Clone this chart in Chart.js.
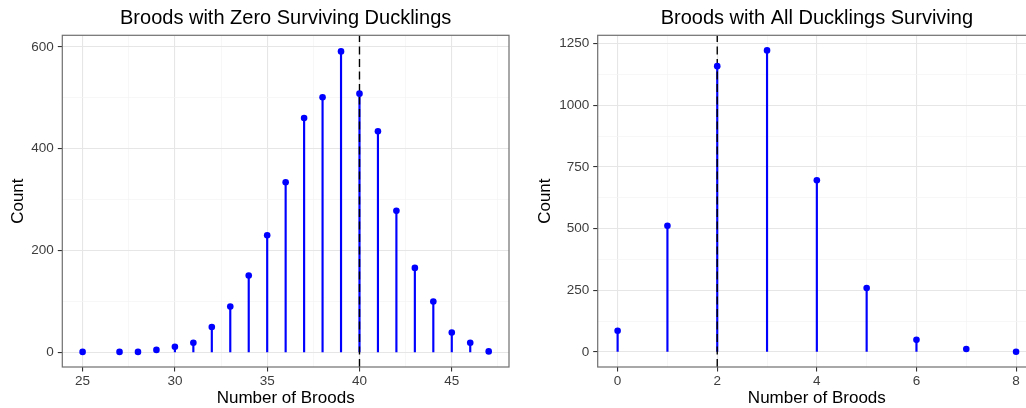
<!DOCTYPE html>
<html><head><meta charset="utf-8">
<script src="https://cdn.jsdelivr.net/npm/chart.js@4.4.0/dist/chart.umd.min.js"></script>
<style>
html,body{margin:0;padding:0;background:#fff;overflow:hidden;width:1026px;height:408px;}
#c1{position:absolute;left:0;top:0;}
#c2{position:absolute;left:513px;top:0;}
</style></head><body>
<canvas id="c1" width="513" height="408"></canvas>
<canvas id="c2" width="533" height="408"></canvas>
<script>
// ---- data ----
const zeroTitle = "Broods with Zero Surviving Ducklings";
const zeroBroods = [25, 27, 28, 29, 30, 31, 32, 33, 34, 35, 36, 37, 38, 39, 40, 41, 42, 43, 44, 45, 46, 47];
const zeroCounts = [1, 1, 1, 5, 11, 19, 50, 90, 151, 230, 334, 460, 501, 591, 508, 434, 278, 166, 100, 39, 19, 2];
const zeroMarker = 40;
const zeroXMajor = [25, 30, 35, 40, 45];
const zeroXMinor = [27.5, 32.5, 37.5, 42.5, 47.5];
const zeroYMajor = [0, 200, 400, 600];
const zeroYMinor = [100, 300, 500];

const allTitle = "Broods with All Ducklings Surviving";
const allBroods = [0, 1, 2, 3, 4, 5, 6, 7, 8];
const allCounts = [86, 512, 1159, 1223, 696, 259, 49, 12, 1];
const allMarker = 2;
const allXMajor = [0, 2, 4, 6, 8];
const allXMinor = [1, 3, 5, 7];
const allYMajor = [0, 250, 500, 750, 1000, 1250];
const allYMinor = [125, 375, 625, 875, 1125];

const xLabel = "Number of Broods";
const yLabel = "Count";

const FONT = '"Liberation Sans", Arial, Helvetica, sans-serif';

function makeChart(canvasId, cfg) {
  const majX = new Set(cfg.xMajor), majY = new Set(cfg.yMajor);
  const pts = cfg.x.map((v, i) => ({x: v, y: cfg.y[i]}));
  const tickSet = (major, minor) => major.concat(minor).sort((a, b) => a - b).map(v => ({value: v}));
  const gridOpts = (majSet) => ({
    offset: false,
    color: ctx => (ctx.tick && majSet.has(ctx.tick.value)) ? '#e6e6e6' : '#f3f3f3',
    lineWidth: ctx => (ctx.tick && majSet.has(ctx.tick.value)) ? 1.1 : 0.7,
    tickColor: ctx => (ctx.tick && majSet.has(ctx.tick.value)) ? '#333333' : 'rgba(0,0,0,0)',
    tickLength: 4.5,
    tickWidth: 1.1,
    drawTicks: true
  });
  const plugins = [{
    id: 'extras',
    afterDatasetDraw(chart, args) {
      if (args.index !== 0) return;
      const {ctx, chartArea: a, scales} = chart;
      const px = scales.x.getPixelForValue(cfg.marker);
      ctx.save();
      ctx.beginPath();
      ctx.rect(a.left, a.top, a.right - a.left, a.bottom - a.top);
      ctx.clip();
      ctx.strokeStyle = '#000';
      ctx.lineWidth = 1.4;
      ctx.setLineDash([8, 4.5]);
      ctx.beginPath();
      ctx.moveTo(px, a.bottom);
      ctx.lineTo(px, a.top);
      ctx.stroke();
      ctx.restore();
    },
    afterDraw(chart) {
      const {ctx, chartArea: a} = chart;
      ctx.save();
      ctx.strokeStyle = '#6f6f6f';
      ctx.lineWidth = 1.2;
      ctx.strokeRect(a.left, a.top, a.right - a.left, a.bottom - a.top);
      ctx.fillStyle = '#000';
      ctx.font = '20px ' + FONT;
      ctx.textAlign = 'center';
      ctx.textBaseline = 'middle';
      ctx.fillText(cfg.title, (a.left + a.right) / 2, 18);
      ctx.restore();
    }
  }];
  return new Chart(document.getElementById(canvasId), {
    data: {
      datasets: [
        {type: 'bar', data: pts, backgroundColor: '#0000ff', barThickness: 1.5, grouped: false, order: 2},
        {type: 'scatter', data: pts, backgroundColor: '#0000ff', borderWidth: 0, pointRadius: 3.3, order: 1}
      ]
    },
    options: {
      responsive: false,
      animation: false,
      events: [],
      layout: {padding: {left: 0, right: cfg.padRight, top: 35.3, bottom: 0}},
      plugins: {legend: {display: false}, tooltip: {enabled: false}, title: {display: false}},
      scales: {
        x: {
          type: 'linear', position: 'bottom', min: cfg.xMin, max: cfg.xMax, offset: false,
          afterBuildTicks: s => { s.ticks = tickSet(cfg.xMajor, cfg.xMinor); },
          afterFit: s => { s.height = 41; },
          grid: gridOpts(majX),
          border: {display: false},
          ticks: {
            autoSkip: false, maxRotation: 0, padding: 2,
            color: '#3d3d3d', font: {family: FONT, size: 13.5},
            callback: v => majX.has(v) ? String(v) : ''
          },
          title: {display: true, text: xLabel, color: '#000', font: {family: FONT, size: 17, lineHeight: 1}, padding: {top: 0, bottom: 1}}
        },
        y: {
          type: 'linear', position: 'left', min: cfg.yMin, max: cfg.yMax,
          afterBuildTicks: s => { s.ticks = tickSet(cfg.yMajor, cfg.yMinor); },
          afterFit: s => { s.width = cfg.yWidth; },
          grid: gridOpts(majY),
          border: {display: false},
          ticks: {
            autoSkip: false, padding: 4,
            color: '#3d3d3d', font: {family: FONT, size: 13.5},
            callback: v => majY.has(v) ? String(v) : ''
          },
          title: {display: true, text: yLabel, color: '#000', font: {family: FONT, size: 17, lineHeight: 1}, padding: {top: cfg.yTitlePad, bottom: 0}}
        }
      }
    },
    plugins
  });
}

makeChart('c1', {
  title: zeroTitle, x: zeroBroods, y: zeroCounts, marker: zeroMarker,
  xMajor: zeroXMajor, xMinor: zeroXMinor, yMajor: zeroYMajor, yMinor: zeroYMinor,
  xMin: 23.9, xMax: 48.1, yMin: -28.6, yMax: 622.6,
  yWidth: 62.3, padRight: 3.7, yTitlePad: 9.8
});
makeChart('c2', {
  title: allTitle, x: allBroods, y: allCounts, marker: allMarker,
  xMajor: allXMajor, xMinor: allXMinor, yMajor: allYMajor, yMinor: allYMinor,
  xMin: -0.4, xMax: 8.4, yMin: -61.15, yMax: 1284.2,
  yWidth: 84.7, padRight: 10, yTitlePad: 23.5
});
</script>
</body></html>
